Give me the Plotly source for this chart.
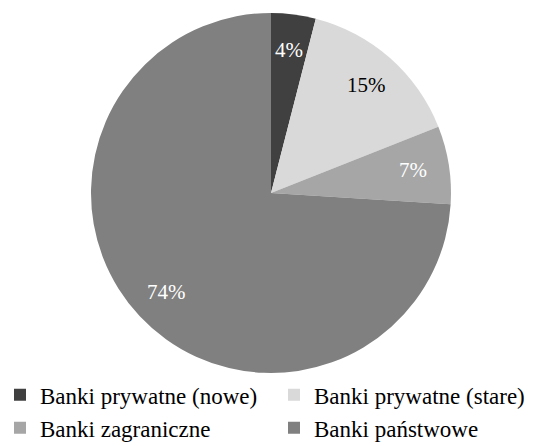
import math
import plotly.graph_objects as go

labels = ["Banki prywatne (nowe)", "Banki prywatne (stare)", "Banki zagraniczne", "Banki państwowe"]
values = [4, 15, 7, 74]
colors = ["#404040", "#d9d9d9", "#a6a6a6", "#808080"]
text_colors = ["#ffffff", "#000000", "#ffffff", "#ffffff"]

W, H = 545, 446
cx, cy, R = 271, 193, 180  # pie centre / radius in pixels

fig = go.Figure(go.Pie(
    labels=labels,
    values=values,
    sort=False,
    direction="clockwise",
    rotation=0,
    marker=dict(colors=colors, line=dict(width=0)),
    textinfo="none",
    domain=dict(x=[(cx - R) / W, (cx + R) / W], y=[1 - (cy + R) / H, 1 - (cy - R) / H]),
    hoverinfo="label+percent",
))

# percentage labels placed at 0.8 R along each slice's mid-angle
total = sum(values)
cum = 0
for v, tc in zip(values, text_colors):
    mid = (cum + v / 2) / total * 2 * math.pi
    cum += v
    px = cx + 0.8 * R * math.sin(mid)
    py = cy - 0.8 * R * math.cos(mid)
    fig.add_annotation(
        x=px / W, y=1 - py / H, xref="paper", yref="paper",
        text=f"{round(v / total * 100)}%", showarrow=False,
        font=dict(family="Liberation Serif", size=21, color=tc),
        xanchor="center", yanchor="middle",
    )

fig.update_layout(
    width=W, height=H,
    margin=dict(l=0, r=0, t=0, b=0, autoexpand=False),
    paper_bgcolor="white",
    plot_bgcolor="white",
    showlegend=True,
    legend=dict(
        orientation="h",
        x=0, xanchor="left",
        y=0.163, yanchor="top",
        font=dict(family="Liberation Serif", size=23, color="#000000"),
        entrywidth=229,
        entrywidthmode="pixels",
        itemwidth=30,
        tracegroupgap=0,
        bgcolor="rgba(0,0,0,0)",
    ),
)

fig.write_html("out.html")
